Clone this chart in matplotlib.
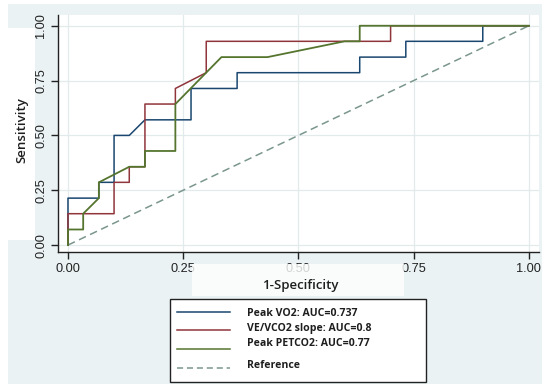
import matplotlib
matplotlib.use("Agg")
import matplotlib.pyplot as plt
from matplotlib.patches import Rectangle
from matplotlib.lines import Line2D

# ROC points (1-specificity, sensitivity) for each predictor
vo2_fpr = [0, 0, 0.067, 0.067, 0.1, 0.1, 0.133, 0.167, 0.267, 0.267, 0.367, 0.367,
           0.633, 0.633, 0.733, 0.733, 0.9, 0.9, 1]
vo2_tpr = [0, 0.214, 0.214, 0.286, 0.286, 0.5, 0.5, 0.571, 0.571, 0.714, 0.714, 0.786,
           0.786, 0.857, 0.857, 0.929, 0.929, 1, 1]

slope_fpr = [0, 0, 0.1, 0.1, 0.133, 0.133, 0.167, 0.167, 0.233, 0.233, 0.3, 0.3,
             0.7, 0.7, 1]
slope_tpr = [0, 0.143, 0.143, 0.286, 0.286, 0.357, 0.357, 0.643, 0.643, 0.714, 0.786,
             0.929, 0.929, 1, 1]

petco2_fpr = [0, 0, 0.033, 0.033, 0.067, 0.067, 0.133, 0.167, 0.167, 0.233, 0.233,
              0.333, 0.433, 0.6, 0.633, 0.633, 1]
petco2_tpr = [0, 0.071, 0.071, 0.143, 0.214, 0.286, 0.357, 0.357, 0.429, 0.429, 0.643,
              0.857, 0.857, 0.929, 0.929, 1, 1]

legend_labels = ["Peak VO2: AUC=0.737", "VE/VCO2 slope: AUC=0.8",
                 "Peak PETCO2: AUC=0.77", "Reference"]
ticks = [0.0, 0.25, 0.5, 0.75, 1.0]
tick_labels = ["0.00", "0.25", "0.50", "0.75", "1.00"]

NAVY = "#1a476f"
MAROON = "#90353b"
FOREST = "#55752f"
REF = "#7a968d"
BG = "#eaf2f3"
GRID = "#e2eaec"

W, H = 542, 384
fig = plt.figure(figsize=(W / 100, H / 100), dpi=100)
fig.patch.set_facecolor("white")


def px_rect(x0, y0, x1, y1, **kw):
    """Rectangle given in pixel coordinates (origin top-left)."""
    return Rectangle((x0 / W, 1 - y1 / H), (x1 - x0) / W, (y1 - y0) / H,
                     transform=fig.transFigure, **kw)


# graph region background
fig.patches.append(px_rect(8, 4, W, H, facecolor=BG, edgecolor="none", zorder=-10))
fig.patches.append(px_rect(8, 28, 35, 240, facecolor="white", edgecolor="none", zorder=-9))

ax = fig.add_axes([58.3 / W, 1 - 252.3 / H, (539 - 58.3) / W, (252.3 - 15) / H])
ax.set_facecolor("white")
ax.set_xlim(-0.021, 1.022)
ax.set_ylim(-0.033, 1.049)

ax.plot([0, 1], [0, 1], color=REF, lw=1.1, ls=(0, (5, 3)), zorder=2)
ax.plot(vo2_fpr, vo2_tpr, color=NAVY, lw=1.1, zorder=3)
ax.plot(slope_fpr, slope_tpr, color=MAROON, lw=1.1, zorder=3)
ax.plot(petco2_fpr, petco2_tpr, color=FOREST, lw=1.3, zorder=4)

ax.set_xticks(ticks)
ax.set_xticklabels(tick_labels)
ax.set_yticks(ticks)
ax.set_yticklabels(tick_labels, rotation=90, va="center")
ax.grid(True, color=GRID, lw=0.9)
ax.set_axisbelow(True)
for side in ("top", "right"):
    ax.spines[side].set_visible(False)
for side in ("left", "bottom"):
    ax.spines[side].set_color("#222222")
    ax.spines[side].set_linewidth(1.0)
ax.tick_params(direction="out", length=5, width=1.0, color="#222222",
               labelsize=9.2, labelcolor="#222222", pad=3)
for lab in ax.get_xticklabels() + ax.get_yticklabels():
    lab.set_family("Liberation Sans")

# faded panel behind the x title
fig.patches.append(px_rect(192, 264, 404, 296, facecolor="white", edgecolor="none",
                           alpha=0.8, zorder=5))
fig.text(300 / W, 1 - 285 / H, "1-Specificity", fontsize=9.5, family="Open Sans",
         fontweight="semibold", color="#1e1e1e", ha="center", va="center", zorder=7)

fig.text(22 / W, 1 - 130 / H, "Sensitivity", fontsize=9.5, family="Open Sans",
         fontweight="semibold", color="#1e1e1e", rotation=90, ha="center",
         va="center", zorder=7)

# legend box
fig.patches.append(px_rect(170, 299, 426, 382, facecolor="white", edgecolor="#222222",
                           lw=1.0, zorder=8))
handles = [
    (NAVY, "-", 312, 313),
    (MAROON, "-", 330, 328),
    (FOREST, "-", 349, 344),
    (REF, (0, (4, 2.5)), 368, 365),
]
for (col, ls, ly, ty), text in zip(handles, legend_labels):
    fig.add_artist(Line2D([177 / W, 230 / W], [1 - ly / H, 1 - ly / H],
                          transform=fig.transFigure, color=col, lw=1.1, ls=ls,
                          zorder=9))
    fig.text(247 / W, 1 - ty / H, text, fontsize=7.6, family="Open Sans",
             fontweight="bold", color="#1e1e1e", ha="left", va="center",
             zorder=9)

fig.savefig("out.png", dpi=100)
